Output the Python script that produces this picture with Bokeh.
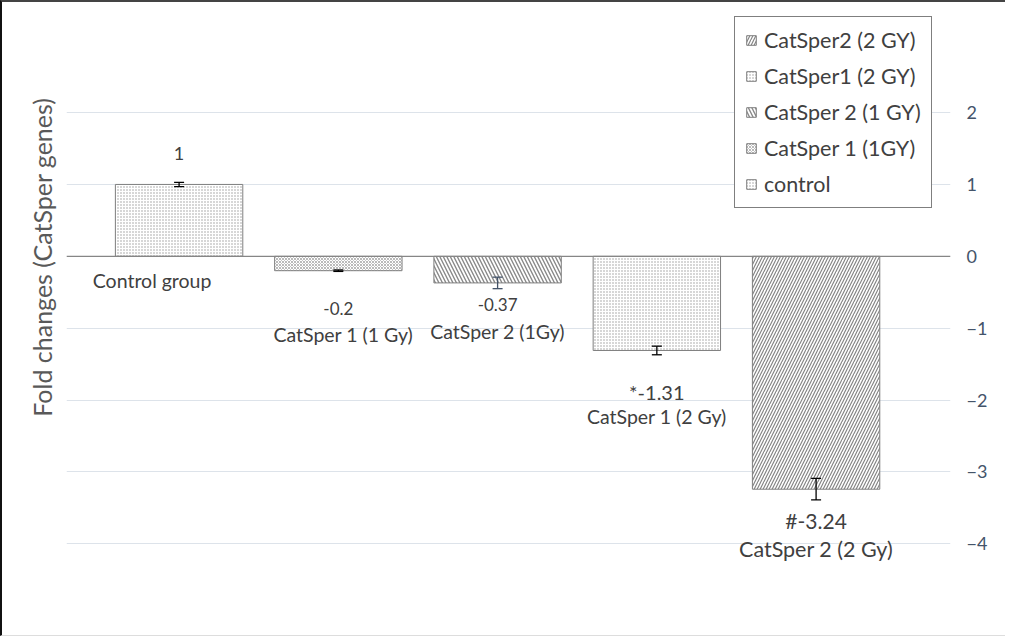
import numpy as np
from bokeh.plotting import figure
from bokeh.models import (Range1d, FixedTicker, Span, Whisker, TeeHead, ColumnDataSource,
                          Legend, LegendItem, Title)
from bokeh.core.properties import value
from bokeh.embed import file_html
from bokeh.resources import INLINE

# ---------------- data ----------------
categories = ["Control group", "CatSper 1 (1 Gy)", "CatSper 2 (1Gy)", "CatSper 1 (2 Gy)", "CatSper 2 (2 Gy)"]
series_names = ["control", "CatSper 1 (1GY)", "CatSper 2 (1 GY)", "CatSper1 (2 GY)", "CatSper2 (2 GY)"]
fold_change = [1.0, -0.2, -0.37, -1.31, -3.24]
errors = [0.03, 0.01, 0.08, 0.06, 0.15]
value_labels = ["1", "-0.2", "-0.37", "*-1.31", "#-3.24"]
y_ticks = [-4, -3, -2, -1, 0, 1, 2]

# ---------------- styles ----------------
hatch_patterns = [".", "x", "\\", ".", "/"]
hatch_scales = [3, 3, 7, 3, 6]
hatch_weights = [1, 0.8, 1.4, 1, 1.2]
hatch_colors = ["#9a9a9a", "#a8a8a8", "#8a8a8a", "#9a9a9a", "#858585"]
value_label_dx = [0, 0, 0, 0, 0]
value_label_dy = [-31, 38, 22, 42, 31]
value_label_size = ["18px", "17px", "17px", "20px", "21px"]
cat_label_dx = [-27, 5, 0, 0, 0]
cat_label_dy = [96, 64, 49, 66, 60]
cat_label_size = ["19.5px", "19.5px", "19.5px", "19.5px", "21.5px"]
whisker_colors = ["black", "black", "#44546a", "black", "black"]
FONT = "Lato"

xs = list(range(len(categories)))

p = figure(width=1005, height=636, output_backend="svg", toolbar_location=None,
           x_range=Range1d(-0.707, 4.844), y_range=Range1d(-4.9, 3.42),
           y_axis_location="right", min_border_left=64, min_border_right=57,
           min_border_top=8, min_border_bottom=30)
p.outline_line_color = None
p.xaxis.visible = False
p.xgrid.visible = False
p.ygrid.ticker = FixedTicker(ticks=y_ticks)
p.ygrid.grid_line_color = "#dde3ea"
p.ygrid.grid_line_width = 1

yax = p.yaxis[0]
yax.ticker = FixedTicker(ticks=y_ticks)
yax.axis_line_color = None
yax.major_tick_line_color = None
yax.major_tick_out = 0
yax.major_tick_in = 0
yax.minor_tick_line_color = None
yax.minor_tick_out = 0
yax.major_label_text_color = "#44546a"
yax.major_label_text_font = FONT
yax.major_label_text_font_size = "18px"
yax.major_label_standoff = 16

p.add_layout(Title(text="Fold changes (CatSper genes)", align="right", offset=87, standoff=20,
                   text_font=FONT, text_font_size="25px", text_font_style="normal",
                   text_color="#595959"), "left")

renderers = []
for i in xs:
    r = p.vbar(x=[xs[i]], top=[fold_change[i]], bottom=0, width=0.8,
               fill_color="white", line_color="#7f7f7f", line_width=1,
               hatch_pattern=hatch_patterns[i], hatch_scale=hatch_scales[i],
               hatch_weight=hatch_weights[i], hatch_color=hatch_colors[i])
    renderers.append(r)

p.add_layout(Span(location=0, dimension="width", line_color="#868686", line_width=1.2))

for i in xs:
    src = ColumnDataSource(dict(base=[xs[i]], upper=[fold_change[i] + errors[i]],
                                lower=[fold_change[i] - errors[i]]))
    w = Whisker(source=src, base="base", upper="upper", lower="lower",
                line_color=whisker_colors[i], line_width=1.3, level="overlay",
                upper_head=TeeHead(size=10, line_color=whisker_colors[i], line_width=1.3),
                lower_head=TeeHead(size=10, line_color=whisker_colors[i], line_width=1.3))
    p.add_layout(w)

lab = ColumnDataSource(dict(x=xs, y=fold_change, vl=value_labels, cl=categories,
                            vdx=value_label_dx, vdy=value_label_dy, vfs=value_label_size,
                            cdx=cat_label_dx, cdy=cat_label_dy, cfs=cat_label_size))
p.text(x="x", y="y", text="vl", x_offset="vdx", y_offset="vdy", source=lab,
       text_align="center", text_baseline="middle", text_font=value(FONT),
       text_font_size="vfs", text_color="#404040")
p.text(x="x", y="y", text="cl", x_offset="cdx", y_offset="cdy", source=lab,
       text_align="center", text_baseline="middle", text_font=value(FONT),
       text_font_size="cfs", text_color="#404040")

items = [LegendItem(label=series_names[i], renderers=[renderers[i]]) for i in reversed(xs)]
legend = Legend(items=items, location=(668, 400), orientation="vertical",
                label_text_font=FONT, label_text_font_size="21.5px", label_text_color="#404040",
                glyph_width=12, glyph_height=12, label_height=22, label_standoff=7,
                spacing=10, padding=10, margin=0,
                border_line_color="black", border_line_width=1.3,
                background_fill_color="white", background_fill_alpha=1)
p.add_layout(legend, "center")

p.styles = {"border-left": "2px solid #111", "border-top": "2px solid #444",
            "border-bottom": "1px solid #ddd"}

open("out.html", "w").write(file_html(p, INLINE))
